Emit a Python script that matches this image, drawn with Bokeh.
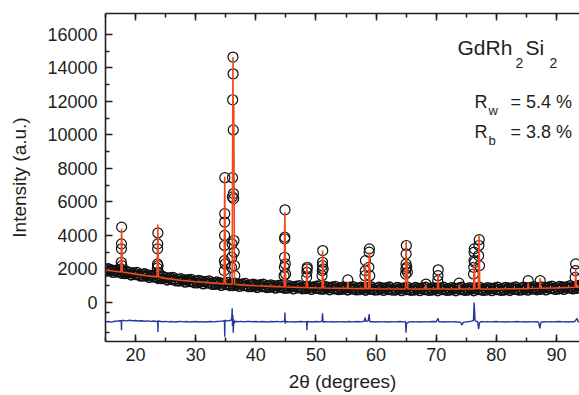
import numpy as np
from bokeh.plotting import figure
from bokeh.models import Range1d, LinearAxis, FixedTicker, SingleIntervalTicker, Label
from bokeh.embed import file_html
from bokeh.resources import INLINE

# ---------------- data ----------------
# observed background points (scan grid 15.00 .. 94.00, step 0.25)
obs_x = np.arange(15.0, 94.001, 0.25)
obs_bg = [
    1990, 1850, 2035, 1880,  1970, 1770, 1895, 1950,  1790, 1970, 1815, 1710,
    1840, 1700, 1885, 1730,  1820, 1620, 1745, 1800,  1640, 1820, 1665, 1560,
    1690, 1550, 1735, 1580,  1670, 1470, 1595, 1650,  1490, 1670, 1515, 1410,
    1540, 1400, 1585, 1430,  1520, 1320, 1445, 1500,  1340, 1520, 1370, 1270,
    1400, 1260, 1450, 1300,  1390, 1190, 1320, 1380,  1220, 1400, 1255, 1155,
    1290, 1150, 1345, 1195,  1290, 1090, 1225, 1285,  1130, 1310, 1165, 1065,
    1200, 1060, 1255, 1105,  1200, 1000, 1135, 1195,  1040, 1225, 1080, 985,
    1120, 985, 1180, 1035,   1130, 935, 1070, 1135,   980, 1165, 1020, 925,
    1060, 925, 1120, 975,    1070, 876, 1012, 1079,   925, 1111, 967, 874,
    1010, 876, 1072, 929,    1025, 831, 967, 1034,    880, 1066, 922, 829,
    965, 832, 1030, 887,     985, 792, 930, 997,      845, 1032, 890, 797,
    935, 802, 1000, 857,     955, 762, 900, 967,      815, 1003, 862, 770,
    908, 776, 974, 833,      931, 739, 878, 946,      795, 983, 842, 750,
    889, 757, 956, 814,      913, 722, 860, 929,      778, 967, 826, 734,
    873, 742, 941, 800,      899, 708, 847, 916,      765, 954, 813, 722,
    861, 730, 929, 788,      886, 696, 836, 906,      754, 944, 804, 714,
    852, 722, 922, 782,      880, 690, 830, 900,      748, 938, 798, 708,
    846, 716, 916, 776,      874, 684, 824, 894,      742, 932, 792, 702,
    841, 711, 911, 771,      870, 680, 820, 890,      740, 930, 790, 700,
    840, 710, 910, 770,      870, 680, 820, 890,      740, 930, 790, 700,
    840, 710, 910, 770,      870, 680, 820, 890,      740, 930, 790, 700,
    842, 712, 912, 772,      874, 684, 824, 894,      746, 936, 796, 706,
    850, 720, 920, 780,      885, 695, 835, 905,      760, 950, 810, 720,
    865, 735, 935, 795,      900, 710, 850, 920,      778, 968, 828, 738,
    886, 756, 956, 816,      924, 734, 874, 944,      802, 992, 852, 762,
    910, 780, 980, 840,      952, 762, 902, 972,      835, 1025, 885, 795,
    948, 818, 1018, 878,
    960,
]

# observed points on the Bragg peaks (2theta, counts)
obs_peaks = [
    (17.60, 2000), (17.63, 2400), (17.65, 3200), (17.66, 3500), (17.68, 4500), (17.72, 2200), (17.76, 1900),
    (23.62, 2050), (23.65, 2300), (23.67, 3200), (23.69, 3500), (23.71, 4150), (23.75, 2200), (23.80, 1800),
    (34.75, 1900), (34.78, 2500), (34.80, 3400), (34.81, 4000), (34.82, 4800), (34.83, 5300), (34.85, 7450), (34.90, 2300),
    (35.95, 2100), (36.00, 2700), (36.05, 3500), (36.10, 6300), (36.12, 7450), (36.15, 12100), (36.20, 14650),
    (36.22, 13650), (36.25, 10300), (36.28, 6500), (36.31, 6200), (36.36, 3700), (36.40, 3000), (36.45, 2200), (36.50, 1600),
    (44.70, 1600), (44.75, 2100), (44.78, 2700), (44.80, 3800), (44.82, 3900), (44.85, 5530), (44.90, 2300), (44.95, 1700),
    (48.45, 1500), (48.50, 1800), (48.53, 2000), (48.56, 2100),
    (51.00, 1600), (51.05, 1900), (51.08, 2200), (51.10, 2400), (51.13, 3100), (51.20, 2000),
    (55.30, 1350),
    (58.15, 1600), (58.20, 1900), (58.23, 2500), (58.80, 2100), (58.85, 3000), (58.88, 3200), (58.95, 1600),
    (64.90, 1700), (64.95, 2000), (64.98, 2300), (65.00, 2900), (65.03, 3400), (65.10, 2100), (65.20, 1800),
    (68.30, 1100),
    (70.25, 1300), (70.30, 1600), (70.33, 1950),
    (73.80, 1150),
    (76.20, 1700), (76.25, 2100), (76.28, 2500), (76.30, 3000), (76.33, 3200), (76.40, 2400),
    (77.05, 2800), (77.10, 3400), (77.15, 3750), (77.20, 2200),
    (85.30, 1300), (87.30, 1300),
    (93.10, 1500), (93.15, 1900), (93.20, 2300),
]
peak_x = [p[0] for p in obs_peaks]
peak_y = [p[1] for p in obs_peaks]

# calculated profile (2theta, counts)
calc_pts = [
    (15.0, 1940), (17.5, 1820), (17.56, 1830), (17.68, 4400), (17.8, 1815), (20.0, 1690), (22.5, 1570),
    (23.58, 1530), (23.70, 4650), (23.82, 1525), (25.0, 1440), (27.5, 1330), (30.0, 1240), (32.5, 1170),
    (34.71, 1110), (34.83, 7500), (34.95, 1108), (36.06, 1090), (36.20, 14650), (36.27, 7000), (36.33, 11800),
    (36.46, 1085), (37.5, 1050), (40.0, 1000), (42.5, 960), (44.71, 925), (44.83, 5400), (44.96, 922),
    (47.5, 895), (48.40, 890), (48.50, 2400), (48.60, 888), (50.0, 875), (51.0, 868), (51.12, 3100),
    (51.25, 866), (55.2, 843), (55.30, 1250), (55.40, 842), (58.10, 828), (58.22, 2350), (58.35, 827),
    (58.75, 826), (58.87, 3000), (59.0, 825), (60.0, 820), (64.88, 808), (65.00, 3650), (65.08, 1500),
    (65.15, 2600), (65.27, 808), (68.2, 802), (68.30, 1050), (68.4, 802), (70.2, 800), (70.30, 1700),
    (70.42, 800), (73.7, 800), (73.80, 1050), (73.9, 800), (76.2, 800), (76.32, 2400), (76.45, 820),
    (77.0, 820), (77.12, 4000), (77.25, 805), (80.0, 806), (85.2, 829), (85.30, 1150), (85.4, 831),
    (87.2, 846), (87.30, 1450), (87.4, 848), (90.0, 870), (93.1, 906), (93.20, 2000), (93.3, 908), (93.83, 915),
]
calc_x = [p[0] for p in calc_pts]
calc_y = [p[1] for p in calc_pts]

# difference curve (obs - calc, offset)
diff_pts = [
    (15.0, -1160), (15.5, -1140), (16.0, -1170), (16.5, -1120), (17.0, -1110), (17.5, -1090), (17.62, -1100),
    (17.66, -1650), (17.7, -1080), (18.0, -1070), (18.5, -1100), (19.0, -1060), (19.5, -1090), (20.0, -1080),
    (20.5, -1110), (21.0, -1090), (21.5, -1120), (22.0, -1100), (22.5, -1130), (23.0, -1110), (23.5, -1140),
    (23.68, -1120), (23.72, -1760), (23.76, -1110), (24.0, -1120), (24.5, -1150), (25.0, -1130), (25.5, -1160),
    (26.0, -1140), (26.5, -1170), (27.0, -1150), (27.5, -1130), (28.0, -1160), (28.5, -1140), (29.0, -1170),
    (29.5, -1150), (30.0, -1140), (30.5, -1165), (31.0, -1145), (31.5, -1170), (32.0, -1150), (32.5, -1135),
    (33.0, -1160), (33.5, -1140), (34.0, -1130), (34.5, -1110), (34.78, -1080), (34.83, -2050), (34.88, -1050),
    (35.2, -1100), (35.5, -1090), (35.9, -1050), (36.0, -900), (36.07, -350), (36.12, -1400), (36.18, -750),
    (36.25, -1800), (36.32, -1000), (36.4, -1250), (36.6, -1120), (37.0, -1150), (37.5, -1130), (38.0, -1160),
    (38.5, -1140), (39.0, -1130), (39.5, -1155), (40.0, -1140), (40.5, -1160), (41.0, -1135), (41.5, -1150),
    (42.0, -1170), (42.5, -1140), (43.0, -1150), (43.5, -1130), (44.0, -1160), (44.5, -1140), (44.78, -1130),
    (44.84, -600), (44.9, -1250), (45.0, -1140), (45.5, -1160), (46.0, -1145), (46.5, -1170), (47.0, -1150),
    (47.5, -1140), (48.0, -1160), (48.45, -1150), (48.5, -1650), (48.55, -1140), (49.0, -1150), (49.5, -1165),
    (50.0, -1140), (50.5, -1155), (51.0, -1120), (51.1, -650), (51.18, -1180), (51.5, -1140), (52.0, -1160),
    (52.5, -1150), (53.0, -1170), (53.5, -1145), (54.0, -1160), (54.5, -1150), (55.0, -1170), (55.5, -1140),
    (56.0, -1160), (56.5, -1150), (57.0, -1140), (57.5, -1160), (58.0, -1120), (58.2, -900), (58.3, -1150),
    (58.7, -1080), (58.85, -700), (58.95, -1150), (59.5, -1150), (60.0, -1165), (60.5, -1145), (61.0, -1160),
    (61.5, -1150), (62.0, -1170), (62.5, -1145), (63.0, -1160), (63.5, -1150), (64.0, -1140), (64.5, -1160),
    (64.9, -1150), (64.98, -1800), (65.06, -1250), (65.5, -1160), (66.0, -1145), (66.5, -1160), (67.0, -1150),
    (67.5, -1170), (68.0, -1145), (68.5, -1160), (69.0, -1150), (69.5, -1140), (70.0, -1150), (70.3, -950),
    (70.45, -1160), (71.0, -1150), (71.5, -1165), (72.0, -1145), (72.5, -1160), (73.0, -1150), (73.5, -1170),
    (74.0, -1180), (74.3, -1350), (74.5, -1180), (75.0, -1160), (75.5, -1140), (76.0, -1100), (76.2, -1050),
    (76.3, 0), (76.36, -300), (76.45, -1100), (76.9, -1150), (77.05, -1600), (77.2, -1200), (77.5, -1140),
    (78.0, -1160), (78.5, -1145), (79.0, -1160), (79.5, -1150), (80.0, -1140), (80.5, -1160), (81.0, -1150),
    (81.5, -1165), (82.0, -1145), (82.5, -1160), (83.0, -1150), (83.5, -1140), (84.0, -1160), (84.5, -1150),
    (85.0, -1165), (85.5, -1145), (86.0, -1160), (86.5, -1150), (87.0, -1170), (87.25, -1550), (87.4, -1180),
    (88.0, -1150), (88.5, -1160), (89.0, -1145), (89.5, -1160), (90.0, -1150), (90.5, -1140), (91.0, -1160),
    (91.5, -1150), (92.0, -1165), (92.5, -1145), (93.0, -1150), (93.45, -950), (93.6, -1150), (93.83, -1160),
]
diff_x = [p[0] for p in diff_pts]
diff_y = [p[1] for p in diff_pts]

y_major = [0, 2000, 4000, 6000, 8000, 10000, 12000, 14000, 16000]
y_minor = [-1770, -580, 1000, 3000, 5000, 7000, 9000, 11000, 13000, 15000]

# ---------------- figure ----------------
FONT = "Liberation Sans"
TXT = "#231f20"
RED = "#f04a1c"
BLUE = "#27379e"

p = figure(width=579, height=395, output_backend="svg", toolbar_location=None,
           x_range=Range1d(15, 93.83), y_range=Range1d(-2330, 17250),
           min_border_left=105, min_border_right=0, min_border_top=13, min_border_bottom=54)
p.outline_line_color = None
p.xgrid.grid_line_color = None
p.ygrid.grid_line_color = None
p.background_fill_color = "white"
p.border_fill_color = "white"

bottom = p.below[0]
left = p.left[0]
bottom.ticker = SingleIntervalTicker(interval=10, num_minor_ticks=2)
left.ticker = FixedTicker(ticks=y_major, minor_ticks=y_minor)

top = LinearAxis(ticker=SingleIntervalTicker(interval=10, num_minor_ticks=2),
                 major_label_text_color=None, major_label_text_font_size="1px",
                 major_label_standoff=0)
p.add_layout(top, "above")

for ax in (bottom, left, top):
    ax.axis_line_width = 1.6
    ax.axis_line_color = TXT
    ax.major_tick_in = 7
    ax.major_tick_out = 0
    ax.minor_tick_in = 4
    ax.minor_tick_out = 0
    ax.major_tick_line_width = 1.5
    ax.minor_tick_line_width = 1.5
    ax.major_tick_line_color = TXT
    ax.minor_tick_line_color = TXT
    ax.major_label_text_font = FONT
    ax.axis_label_text_font = FONT
    ax.axis_label_text_color = TXT
    ax.axis_label_text_font_style = "normal"
    ax.axis_label_text_font_size = "19px"

for ax in (bottom, left):
    ax.major_label_text_font_size = "18px"
    ax.major_label_text_color = TXT

bottom.axis_label = "2θ (degrees)"
bottom.major_label_standoff = 6
bottom.axis_label_standoff = 7
left.axis_label = "Intensity (a.u.)"
left.major_label_standoff = 8
left.axis_label_standoff = 14

# observed
p.scatter(obs_x, obs_bg, marker="circle", size=9, fill_alpha=0, line_color="#111111", line_width=1.6)
p.scatter(peak_x, peak_y, marker="circle", size=10, fill_alpha=0, line_color="#111111", line_width=1.2)
# calculated
p.line(calc_x, calc_y, line_color=RED, line_width=1.6)
# difference
p.line(diff_x, diff_y, line_color=BLUE, line_width=1.4)

# annotations
def lab(x, y, t, size):
    p.add_layout(Label(x=x, y=y, text=t, text_font=FONT, text_font_size=size,
                       text_color=TXT, text_baseline="alphabetic", text_align="left"))

lab(73.54, 15224, "GdRh", "21px")
lab(83.17, 14269, "2", "14px")
lab(84.85, 15224, "Si", "21px")
lab(88.84, 14269, "2", "14px")

lab(76.37, 11940, "R", "18px")
lab(78.70, 11463, "w", "13px")
lab(82.35, 11940, "= 5.4 %", "18px")
lab(76.37, 10149, "R", "18px")
lab(78.70, 9672, "b", "13px")
lab(82.35, 10149, "= 3.8 %", "18px")

open("out.html", "w").write(file_html(p, INLINE))
